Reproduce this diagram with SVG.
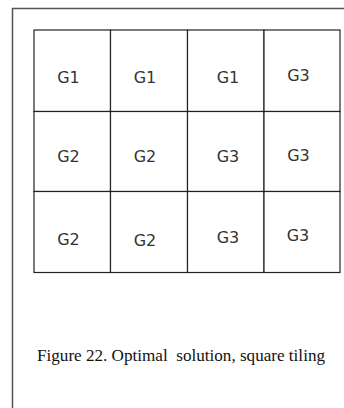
<svg xmlns="http://www.w3.org/2000/svg" width="344" height="408" viewBox="0 0 344 408">
<style>
.frame{fill:none;stroke:#555;stroke-width:1.5}
.cell{fill:#fff;stroke:#222;stroke-width:1.2}
.lbl{font-family:"DejaVu Sans","Liberation Sans",sans-serif;font-size:16px;fill:#333;text-anchor:middle}
.cap{font-family:"Liberation Serif","Times New Roman",serif;font-size:17px;fill:#111}
</style>
<rect x="0" y="0" width="344" height="408" fill="#fff"/>
<rect class="frame" x="12.5" y="8.5" width="345" height="410"/>
<g id="grid">
<g id="r1c1"><rect class="cell" x="34" y="30" width="76.5" height="81.5"/><text class="lbl" x="68.5" y="83">G1</text></g>
<g id="r1c2"><rect class="cell" x="110.5" y="30" width="77" height="81.5"/><text class="lbl" x="145" y="83">G1</text></g>
<g id="r1c3"><rect class="cell" x="187.5" y="30" width="76.5" height="81.5"/><text class="lbl" x="228" y="83">G1</text></g>
<g id="r1c4"><rect class="cell" x="264" y="30" width="76" height="81.5"/><text class="lbl" x="298.5" y="80.5">G3</text></g>
<g id="r2c1"><rect class="cell" x="34" y="111.5" width="76.5" height="80"/><text class="lbl" x="68.5" y="161.5">G2</text></g>
<g id="r2c2"><rect class="cell" x="110.5" y="111.5" width="77" height="80"/><text class="lbl" x="145" y="161.5">G2</text></g>
<g id="r2c3"><rect class="cell" x="187.5" y="111.5" width="76.5" height="80"/><text class="lbl" x="228" y="161.5">G3</text></g>
<g id="r2c4"><rect class="cell" x="264" y="111.5" width="76" height="80"/><text class="lbl" x="298.5" y="161">G3</text></g>
<g id="r3c1"><rect class="cell" x="34" y="191.5" width="76.5" height="81"/><text class="lbl" x="68.5" y="245">G2</text></g>
<g id="r3c2"><rect class="cell" x="110.5" y="191.5" width="77" height="81"/><text class="lbl" x="145" y="246">G2</text></g>
<g id="r3c3"><rect class="cell" x="187.5" y="191.5" width="76.5" height="81"/><text class="lbl" x="228" y="242.5">G3</text></g>
<g id="r3c4"><rect class="cell" x="264" y="191.5" width="76" height="81"/><text class="lbl" x="298" y="240.5">G3</text></g>
</g>
<g id="connectors"/>
<text id="caption" class="cap" x="37" y="360.5" xml:space="preserve" textLength="288" lengthAdjust="spacingAndGlyphs">Figure 22. Optimal  solution, square tiling</text>
</svg>
